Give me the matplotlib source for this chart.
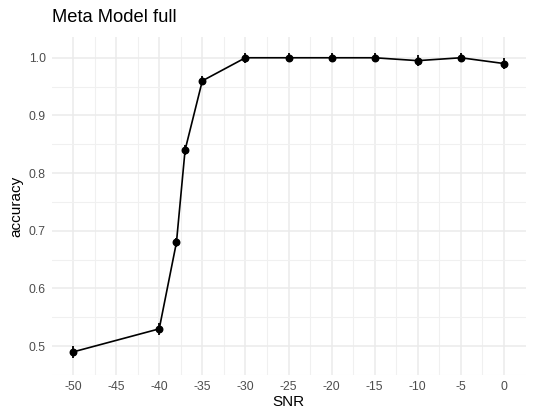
import matplotlib
matplotlib.use("Agg")
import matplotlib.pyplot as plt
import numpy as np

snr = [-50, -40, -38, -37, -35, -30, -25, -20, -15, -10, -5, 0]
accuracy = [0.49, 0.53, 0.68, 0.84, 0.96, 1.0, 1.0, 1.0, 1.0, 0.995, 1.0, 0.99]
err = [0.011, 0.010, 0.008, 0.008, 0.008, 0.009, 0.008, 0.008, 0.008, 0.009, 0.008, 0.009]
xticks = [-50, -45, -40, -35, -30, -25, -20, -15, -10, -5, 0]
yticks = [0.5, 0.6, 0.7, 0.8, 0.9, 1.0]

plt.rcParams['font.family'] = ['Liberation Sans', 'DejaVu Sans']

fig = plt.figure(figsize=(5.52, 4.16), dpi=100)
W, H = 552, 416
ax = fig.add_axes([51.5 / W, 1 - 375 / H, (525.5 - 51.5) / W, (375 - 37) / H])

for s in ax.spines.values():
    s.set_visible(False)

ax.set_xlim(-52.5, 2.5)
ax.set_ylim(0.455, 1.036)
ax.set_xticks(xticks)
ax.set_xticklabels([str(v) for v in xticks])
ax.set_yticks(yticks)
ax.set_yticklabels([f"{v:.1f}" for v in yticks])
ax.set_xticks(np.arange(-47.5, 0, 5), minor=True)
ax.set_yticks(np.arange(0.45, 1.04, 0.1), minor=True)
ax.grid(which='major', color='#EBEBEB', linewidth=1.1)
ax.grid(which='minor', color='#F0F0F0', linewidth=0.8)
ax.set_axisbelow(True)
ax.tick_params(which='both', length=0, labelsize=8.8, labelcolor='#4D4D4D', pad=4)

ax.errorbar(snr, accuracy, yerr=err, fmt='none', ecolor='black', elinewidth=1.3)
ax.plot(snr, accuracy, color='black', linewidth=1.2)
ax.scatter(snr, accuracy, color='black', s=22, zorder=3)

ax.set_xlabel('SNR', fontsize=11, labelpad=2)
ax.set_ylabel('accuracy', fontsize=11, labelpad=4)
fig.text(52 / W, 1 - 18 / H, 'Meta Model full', fontsize=13.2, va='center', ha='left')

fig.savefig('out.png', dpi=100)
